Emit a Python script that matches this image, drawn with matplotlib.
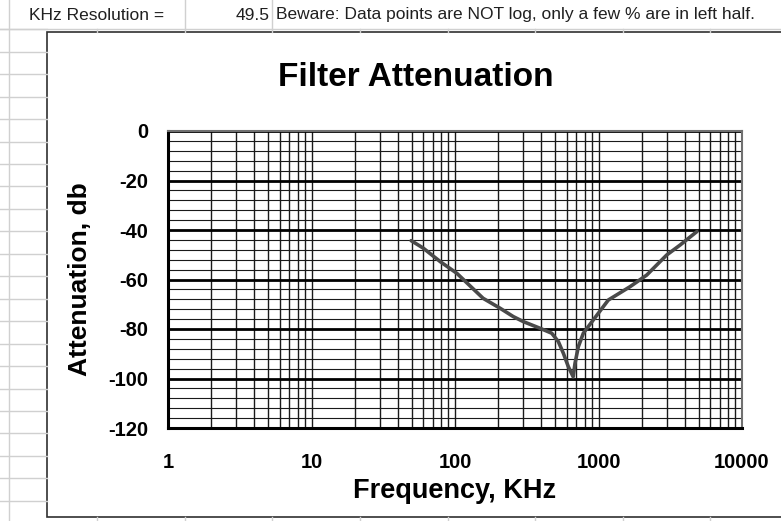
import numpy as np
import matplotlib.pyplot as plt
from matplotlib.patches import Rectangle
from matplotlib.ticker import FixedLocator, NullFormatter

plt.rcParams['font.family'] = ['Liberation Sans', 'DejaVu Sans']
plt.rcParams['axes.unicode_minus'] = False

# filter response, frequency in KHz vs attenuation in db
freq_khz = [49.5, 60, 79, 103, 157, 206, 255, 299, 391, 472, 525, 569, 616,
            666, 686, 723, 784, 918, 1170, 1659, 2168, 2987, 3698, 4857]
atten_db = [-44.3, -47.3, -52.8, -57.5, -67.6, -71.6, -75.0, -77.0, -79.7,
            -81.7, -85.1, -89.8, -95.2, -99.3, -93.9, -87.2, -81.7, -76.4,
            -68.3, -62.9, -58.2, -50.1, -46.1, -40.6]

x_ticks = [1, 10, 100, 1000, 10000]
x_ticklabels = ['1', '10', '100', '1000', '10000']
y_ticks = [0, -20, -40, -60, -80, -100, -120]

header_label = 'KHz Resolution ='
header_value = '49.5'
header_note = 'Beware: Data points are NOT log, only a few % are in left half.'

W, H = 781, 521
fig = plt.figure(figsize=(W / 100, H / 100), dpi=100)

# sheet background in pixel units
bg = fig.add_axes([0, 0, 1, 1])
bg.set_xlim(0, W)
bg.set_ylim(H, 0)
bg.axis('off')

cell = '#d0d0d0'
row_h = 22.45
for k in range(0, 23):
    y = 29.3 + k * row_h
    bg.plot([0, 47], [y, y], color=cell, lw=1)
bg.plot([8.5, 8.5], [0, H], color=cell, lw=1)
col_x = [9.5 + 87.6 * k for k in range(10)]
for x in col_x[1:]:
    bg.plot([x, x], [517, H], color=cell, lw=1)
    bg.plot([x, x], [29.3, 32], color=cell, lw=1)
bg.plot([0, W], [29.3, 29.3], color=cell, lw=1)
bg.plot([185, 185], [0, 29.3], color=cell, lw=1)
bg.plot([272, 272], [0, 29.3], color=cell, lw=1)

bg.text(97, 15, header_label, fontsize=12.5, va='center', ha='center', color='#202020')
bg.text(270, 15, header_value, fontsize=12.5, va='center', ha='right', color='#202020')
bg.text(276, 15, header_note, fontsize=12.5, va='center', ha='left', color='#202020')

# chart area
bg.add_patch(Rectangle((47, 32), W - 47 + 5, 517 - 32, facecolor='white',
                       edgecolor='#303030', lw=1.2))
bg.text(416, 77, 'Filter Attenuation', fontsize=24, fontweight='bold',
        ha='center', va='center', color='black')

# plot area
L, R, T, B = 168, 742, 131, 428
ax = fig.add_axes([L / W, 1 - B / H, (R - L) / W, (B - T) / H])
ax.set_xscale('log')
ax.set_xlim(1, 10000)
ax.set_ylim(-120, 0)

ax.xaxis.set_major_locator(FixedLocator(x_ticks))
ax.set_xticklabels(x_ticklabels)
minor_x = [m * 10 ** d for d in range(4) for m in range(2, 10)]
ax.xaxis.set_minor_locator(FixedLocator(minor_x))
ax.xaxis.set_minor_formatter(NullFormatter())
ax.set_yticks(y_ticks)
ax.set_yticks(np.arange(-120, 1, 4), minor=True)

ax.grid(axis='x', which='both', color='#1a1a1a', lw=1.0)
ax.grid(axis='y', which='minor', color='#1a1a1a', lw=0.8)
ax.grid(axis='y', which='major', color='black', lw=2.0)
ax.set_axisbelow(True)

ax.tick_params(which='both', length=0)
ax.tick_params(axis='x', pad=18, labelsize=14.5)
ax.tick_params(axis='y', pad=14, labelsize=14.5)
for lab in ax.get_xticklabels() + ax.get_yticklabels():
    lab.set_fontweight('bold')

for side in ['left', 'bottom']:
    ax.spines[side].set_color('black')
    ax.spines[side].set_linewidth(2.2)
for side in ['top', 'right']:
    ax.spines[side].set_color('#707070')
    ax.spines[side].set_linewidth(1.5)

ax.plot(freq_khz, atten_db, color='#4a4a4a', lw=2.6, solid_capstyle='round',
        solid_joinstyle='round')

ax.set_xlabel('Frequency, KHz', fontsize=19.5, fontweight='bold', labelpad=4)
ax.set_ylabel('Attenuation, db', fontsize=19, fontweight='bold', labelpad=12)

fig.savefig('out.png', dpi=100)
